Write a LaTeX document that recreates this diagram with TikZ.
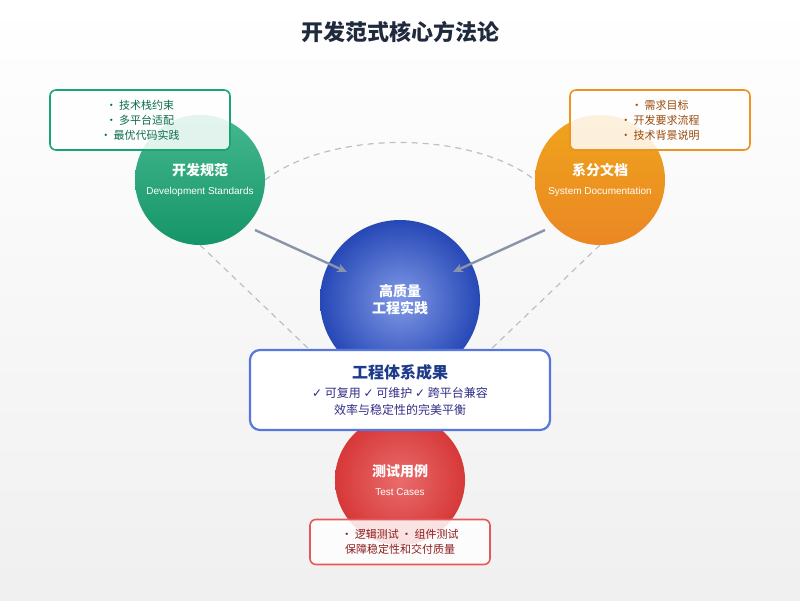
\documentclass[tikz,border=0pt]{standalone}
\usepackage{fontspec}
\setmainfont{Liberation Sans}
\newfontfamily\cjk{Noto Sans CJK SC}
\newfontfamily\symf{DejaVu Sans}
\usetikzlibrary{arrows.meta}
\definecolor{grn}{HTML}{17A673}
\definecolor{grnd}{HTML}{0B6E4A}
\definecolor{org}{HTML}{EC9420}
\definecolor{orgd}{HTML}{9A4A0A}
\definecolor{blu}{HTML}{2D55D6}
\definecolor{blud}{HTML}{1E3A8A}
\definecolor{red}{HTML}{E23B3B}
\definecolor{redd}{HTML}{8F1D1D}
\definecolor{conn}{HTML}{8A94A8}
\definecolor{ink}{HTML}{1F2A3C}
\tikzset{
  ball/.style={circle, minimum size=130pt, inner sep=0pt, align=center, text=white, font=\cjk\bfseries\fontsize{14}{19}\selectfont},
  info/.style={draw, line width=1.6pt, rounded corners=6pt, fill=white, fill opacity=0.85, text opacity=1, align=center, font=\cjk\fontsize{11}{15}\selectfont},
  dashline/.style={dashed, dash pattern=on 6pt off 5pt, color=conn!60, line width=1.2pt},
  feed/.style={-{Stealth[length=10pt,width=9pt]}, color=conn, line width=2.4pt}
}
\def\sub#1{{\normalfont\fontsize{10}{13}\selectfont #1}}
\begin{document}
\begin{tikzpicture}[x=1pt,y=-1pt]
    \fill[top color=white, bottom color=gray!12] (0,0) rectangle (800,600);
    \useasboundingbox (0,0) rectangle (800,600);
    \node[text=ink] (title) at (400,32) {\cjk\bfseries\fontsize{22}{26}\selectfont 开发范式核心方法论};
    % connectors
    \coordinate (arcl) at (265,180);
    \coordinate (arcr) at (535,180);
    \draw[dashline] (arcl) .. controls (330,130) and (470,130) .. (arcr);
    \coordinate (dl1) at (200,245);
    \coordinate (dl2) at (312,352);
    \coordinate (dr1) at (600,245);
    \coordinate (dr2) at (488,352);
    \draw[dashline] (dl1) -- (dl2);
    \draw[dashline] (dr1) -- (dr2);
    % circles
    \node[ball, top color=grn!80!white, bottom color=grn!90!black] (dev) at (200,180) {开发规范\\\sub{Development Standards}};
    \node[ball, top color=org!85!yellow, bottom color=org!85!red] (doc) at (600,180) {系分文档\\\sub{System Documentation}};
    \node[ball, minimum size=160pt, inner color=blu!60!white, outer color=blu!85!black, font=\cjk\bfseries\fontsize{14}{17}\selectfont] (core) at (400,300) {高质量\\工程实践};
    \node[ball, inner color=red!75!white, outer color=red!95!black] (test) at (400,480) {测试用例\\\sub{Test Cases}};
    \coordinate (a1) at (255,230);
    \coordinate (a2) at (347,272);
    \coordinate (b1) at (545,230);
    \coordinate (b2) at (453,272);
    \draw[feed] (a1) -- (a2);
    \draw[feed] (b1) -- (b2);
    % boxes
    \node[info, draw=grn, text=grnd, minimum width=180pt, minimum height=60pt] (devbox) at (140,120) {• 技术栈约束\\• 多平台适配\\• 最优代码实践};
    \node[info, draw=org, text=orgd, minimum width=180pt, minimum height=60pt] (docbox) at (660,120) {• 需求目标\\• 开发要求流程\\• 技术背景说明};
    \node[info, draw=blu!80!white, line width=2.2pt, rounded corners=10pt, fill opacity=1, text=blud!80!violet, minimum width=300pt, minimum height=80pt, font=\cjk\fontsize{12}{17}\selectfont] (result) at (400,390) {{\bfseries\fontsize{16}{19}\selectfont\color{blud}工程体系成果}\\[2pt]{\symf ✓} 可复用 {\symf ✓} 可维护 {\symf ✓} 跨平台兼容\\效率与稳定性的完美平衡};
    \node[info, draw=red!85!white, text=redd, minimum width=180pt, minimum height=45pt] (testbox) at (400,542) {• 逻辑测试 • 组件测试\\保障稳定性和交付质量};
\end{tikzpicture}
\end{document}
